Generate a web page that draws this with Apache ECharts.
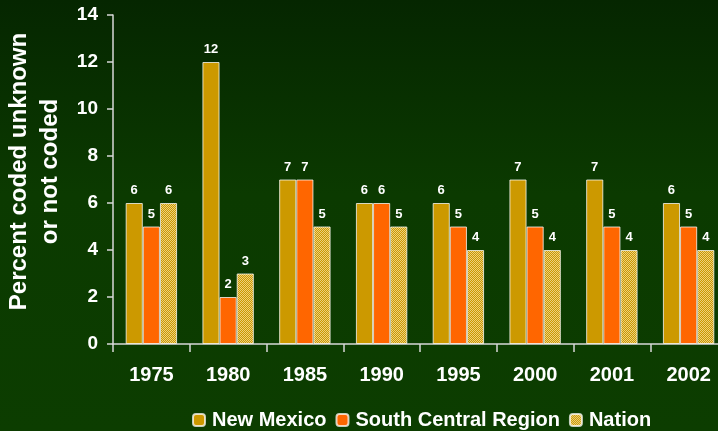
<!DOCTYPE html>
<html>
<head>
<meta charset="utf-8">
<script src="https://cdn.jsdelivr.net/npm/echarts@6/dist/echarts.min.js"></script>
<style>
html,body{margin:0;padding:0;background:#0b3a00;}
#chart{width:718px;height:431px;}
</style>
</head>
<body>
<div id="chart"></div>
<script>
const categories = ['1975','1980','1985','1990','1995','2000','2001','2002'];
const newMexico = [6,12,7,6,6,7,7,6];
const southCentral = [5,2,7,6,5,5,5,5];
const nation = [6,3,5,5,4,4,4,4];
const yTicks = [0,2,4,6,8,10,12,14];

function makePattern(){
  const c = document.createElement('canvas');
  c.width = 4; c.height = 4;
  const ctx = c.getContext('2d');
  ctx.fillStyle = '#cc9900';
  ctx.fillRect(0,0,4,4);
  ctx.fillStyle = '#ecd07e';
  for (let y=0;y<4;y++){
    for (let x=0;x<4;x++){
      if ((x+y)%2===0) ctx.fillRect(x,y,1,1);
    }
  }
  return c;
}
const pattern = {image: makePattern(), repeat: 'repeat'};

const chart = echarts.init(document.getElementById('chart'), null, {renderer:'canvas'});
const fontFamily = 'Liberation Sans, Arial, sans-serif';
const labelStyle = {show:true, position:'top', distance:6, color:'#ffffff', fontWeight:'bold', fontSize:13, fontFamily};
const border = {borderColor:'rgba(255,255,255,0.75)', borderWidth:1};

chart.setOption({
  animation:false,
  backgroundColor:{type:'linear',x:0,y:0,x2:0,y2:1,colorStops:[
    {offset:0,color:'#052600'},{offset:0.45,color:'#0b3a00'},{offset:1,color:'#0c3d00'}]},
  grid:{left:113, top:15, height:329, width:614, containLabel:false, outerBoundsMode:'none'},
  legend:{
    left:187, top:405, itemWidth:12, itemHeight:12, itemGap:9,
    textStyle:{color:'#ffffff', fontWeight:'bold', fontSize:20, fontFamily, padding:[0,0,0,2]},
    data:['New Mexico','South Central Region','Nation']
  },
  xAxis:{
    type:'category', data:categories,
    axisLine:{lineStyle:{color:'#d8d8d8', width:1.5}},
    axisTick:{show:true, length:8, lineStyle:{color:'#d8d8d8', width:1.5}},
    axisLabel:{color:'#ffffff', fontWeight:'bold', fontSize:20, fontFamily, margin:21}
  },
  yAxis:{
    type:'value', min:0, max:14, interval:2,
    name:'Percent coded unknown\nor not coded',
    nameLocation:'middle', nameRotate:90, nameGap:47,
    nameTextStyle:{color:'#ffffff', fontWeight:'bold', fontSize:24, fontFamily, lineHeight:31, padding:[0,0,0,16]},
    axisLine:{show:true, lineStyle:{color:'#d8d8d8', width:1.5}},
    axisTick:{show:true, length:6, lineStyle:{color:'#d8d8d8', width:1.5}},
    splitLine:{show:false},
    axisLabel:{color:'#ffffff', fontWeight:'bold', fontSize:19, fontFamily, margin:15,
      formatter:function(v){ return yTicks.indexOf(v)>=0 ? String(v) : ''; }}
  },
  series:[
    {name:'New Mexico', type:'bar', data:newMexico, barGap:'0%', barCategoryGap:'33%',
      itemStyle:Object.assign({color:'#cc9900'}, border), label:labelStyle},
    {name:'South Central Region', type:'bar', data:southCentral,
      itemStyle:Object.assign({color:'#ff6600'}, border), label:labelStyle},
    {name:'Nation', type:'bar', data:nation,
      itemStyle:Object.assign({color:pattern}, border), label:labelStyle}
  ]
});
</script>
</body>
</html>
